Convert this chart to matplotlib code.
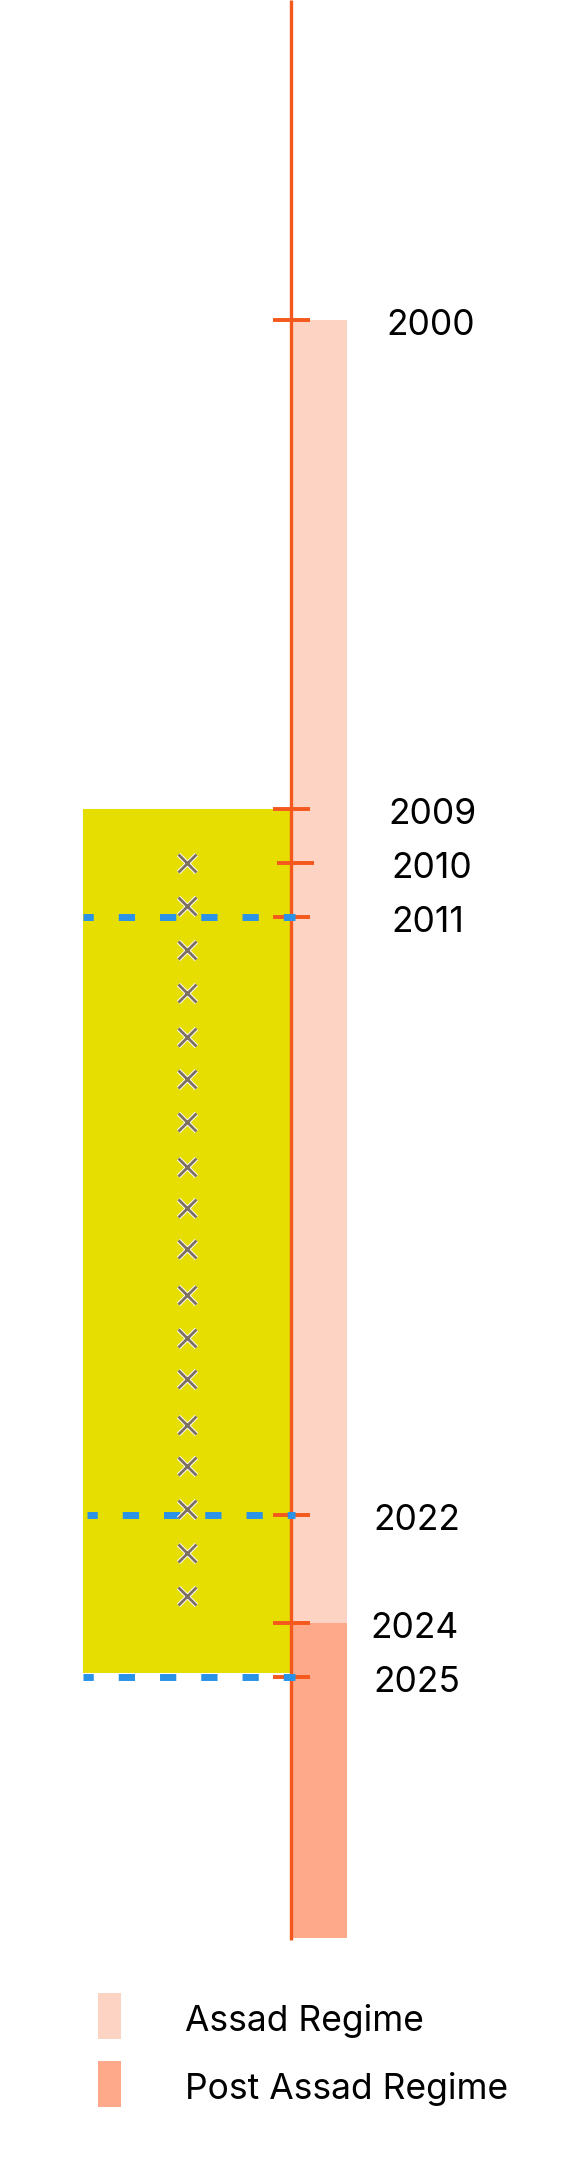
import matplotlib
matplotlib.use("Agg")
import matplotlib.pyplot as plt
from matplotlib.patches import Rectangle
import matplotlib.patheffects as pe

plt.rcParams['font.family'] = ['Inter', 'DejaVu Sans']
plt.rcParams['lines.scale_dashes'] = False

# ---- data ----
tick_years = [2000, 2009, 2010, 2011, 2022, 2024, 2025]
tick_labels = ["2000", "2009", "2010", "2011", "2022", "2024", "2025"]
regime_names = ["Assad Regime", "Post Assad Regime"]
regime_start = [2000, 2024]
regime_end = [2024, 2029.8]
highlight_span = [2009, 2025]
marker_years = [2010.0, 2010.8, 2011.6, 2012.4, 2013.2, 2013.97, 2014.77, 2015.6,
                2016.35, 2017.1, 2017.96, 2018.75, 2019.5, 2020.35, 2021.1,
                2021.9, 2022.7, 2023.5]
dashed_years = [2011, 2022, 2025]

# ---- style / layout (x is in pixels, y in years) ----
W, H = 585, 2160
PX_PER_YEAR = 54.3
Y0_PX = 320                      # pixel row of year 2000
AXIS_X = 291
ORANGE = "#f4581c"
regime_colors = ["#fdd3c4", "#fda98a"]
YELLOW = "#e5de00"
BLUE = "#2a93e8"
CROSS = "#7d7062"

fig = plt.figure(figsize=(W / 100, H / 100), dpi=100)
ax = fig.add_axes([0, 0, 1, 1])
ax.set_xlim(0, W)
ax.set_ylim(2000 + (H - Y0_PX) / PX_PER_YEAR, 2000 - Y0_PX / PX_PER_YEAR)
ax.axis("off")

# yellow highlight block
ax.add_patch(Rectangle((83, highlight_span[0]), AXIS_X - 83,
                       highlight_span[1] - highlight_span[0] - 0.08,
                       color=YELLOW, lw=0, zorder=1))

# regime bars
for s, e, c in zip(regime_start, regime_end, regime_colors):
    ax.add_patch(Rectangle((AXIS_X, s), 347 - AXIS_X, e - s, color=c, lw=0, zorder=1))

# timeline axis
ax.plot([AXIS_X, AXIS_X], [ax.get_ylim()[1], regime_end[-1] + 0.04],
        color=ORANGE, lw=2.4, solid_capstyle="butt", zorder=3)

# ticks + labels
label_x = [386, 388, 391, 391, 373, 370, 373]
tick_shift = [0, 0, 4, 0, 0, 0, 0]
for yr, lab, lx, sh in zip(tick_years, tick_labels, label_x, tick_shift):
    ax.plot([273 + sh, 310 + sh], [yr, yr], color=ORANGE, lw=2.8,
            solid_capstyle="butt", zorder=3)
    ax.text(lx, yr + 0.1, lab, fontsize=25.5, va="center", ha="left", color="black")

# dashed event lines
dash_start = [83, 87, 83]
for yr, x0 in zip(dashed_years, dash_start):
    ax.plot([x0, AXIS_X + 4], [yr, yr], color=BLUE, lw=5,
            linestyle=(4.3, (11.7, 18.0)), dash_capstyle="butt", zorder=4)

# event markers
ax.plot([187] * len(marker_years), marker_years, linestyle="none", marker="x",
        ms=13, mew=2.0, color=CROSS, zorder=5,
        path_effects=[pe.Stroke(linewidth=3.4, foreground="white"), pe.Normal()])

# legend
def fy(py):
    return 1 - py / H

for i, (name, c) in enumerate(zip(regime_names, regime_colors)):
    top = 1993 + i * 68
    fig.patches.append(Rectangle((98 / W, fy(top + 46)), 23 / W, 46 / H,
                                 transform=fig.transFigure, color=c, lw=0))
    fig.text(185 / W, fy(top + 28), name, fontsize=25.5, va="center", ha="left",
             color="black")

fig.savefig("out.png", dpi=100, facecolor="white")
